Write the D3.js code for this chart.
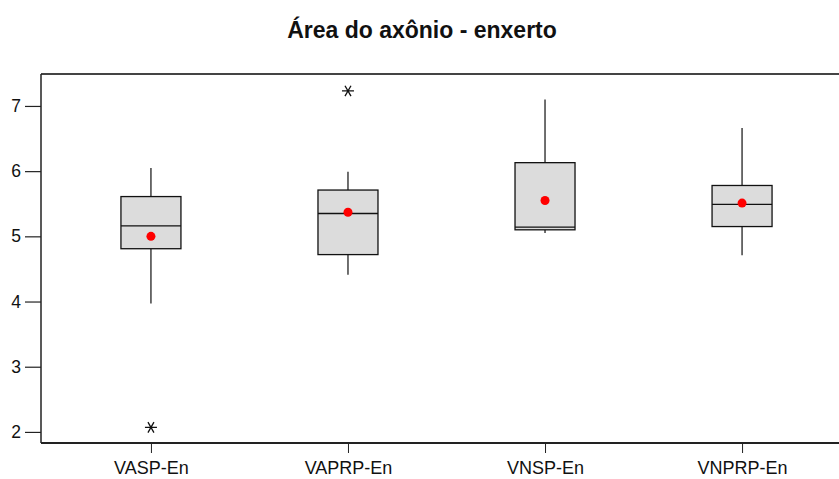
<!DOCTYPE html>
<html><head><meta charset="utf-8">
<script src="https://cdn.jsdelivr.net/npm/d3@7"></script>
<style>body{margin:0;background:#fff}svg{display:block;font-family:"Liberation Sans",Arial,sans-serif}</style>
</head><body><svg id="c" width="839" height="479"></svg>
<script>
const categories = ["VASP-En","VAPRP-En","VNSP-En","VNPRP-En"];
const whiskerLow  = [3.97, 4.41, 5.05, 4.71];
const q1          = [4.81, 4.72, 5.10, 5.15];
const median      = [5.16, 5.35, 5.14, 5.49];
const q3          = [5.61, 5.71, 6.13, 5.78];
const whiskerHigh = [6.05, 5.99, 7.10, 6.66];
const means       = [5.00, 5.37, 5.55, 5.51];
const outliers    = [[2.07], [7.23], [], []];
const yTicks      = [2,3,4,5,6,7];
const title = "Área do axônio - enxerto";

const svg = d3.select("#c");
const mLeft = 41, mTop = 74, mBottom = 443, mRight = 852;
const y = d3.scaleLinear().domain([1.83, 7.49]).range([mBottom, mTop]);
const x = d3.scalePoint().domain(categories).range([mLeft, mRight]).padding(0.558);
const boxW = 60;
const FONT = "Liberation Sans, Arial, sans-serif";

svg.append("text").attr("x", 422).attr("y", 38).attr("text-anchor","middle")
  .attr("font-size", 23).attr("font-weight","bold").attr("font-family",FONT).attr("fill","#111").text(title);

// frame
svg.append("line").attr("x1",mLeft).attr("x2",839).attr("y1",mTop).attr("y2",mTop).attr("stroke","#444").attr("stroke-width",2);
svg.append("line").attr("x1",mLeft).attr("x2",839).attr("y1",mBottom).attr("y2",mBottom).attr("stroke","#222").attr("stroke-width",2);
svg.append("line").attr("x1",mLeft).attr("x2",mLeft).attr("y1",mTop).attr("y2",mBottom).attr("stroke","#222").attr("stroke-width",1.5);

// y axis
const ya = svg.append("g").attr("transform",`translate(${mLeft},0)`)
  .call(d3.axisLeft(y).tickValues(yTicks).tickSize(16).tickPadding(4).tickFormat(d3.format("d")));
ya.select(".domain").remove();
ya.selectAll("line").attr("stroke","#222").attr("stroke-width",1.2);
ya.selectAll("text").attr("font-size",17.5).attr("fill","#111").attr("font-family",FONT);

// x axis
const xa = svg.append("g").attr("transform",`translate(0,${mBottom})`)
  .call(d3.axisBottom(x).tickSize(10).tickPadding(8));
xa.select(".domain").remove();
xa.selectAll("line").attr("stroke","#222").attr("stroke-width",1);
xa.selectAll("text").attr("font-size",18).attr("fill","#111").attr("font-family",FONT);

const ast = "M-6,0L6,0M-3,-5.2L3,5.2M3,-5.2L-3,5.2";
categories.forEach((c,i)=>{
  const cx = x(c);
  const g = svg.append("g");
  g.append("line").attr("x1",cx).attr("x2",cx).attr("y1",y(whiskerHigh[i])).attr("y2",y(q3[i])).attr("stroke","#222").attr("stroke-width",1.3);
  g.append("line").attr("x1",cx).attr("x2",cx).attr("y1",y(q1[i])).attr("y2",y(whiskerLow[i])).attr("stroke","#222").attr("stroke-width",1.3);
  g.append("rect").attr("x",cx-boxW/2).attr("width",boxW).attr("y",y(q3[i])).attr("height",y(q1[i])-y(q3[i]))
    .attr("fill","#dcdcdc").attr("stroke","#111").attr("stroke-width",1.3);
  g.append("line").attr("x1",cx-boxW/2).attr("x2",cx+boxW/2).attr("y1",y(median[i])).attr("y2",y(median[i])).attr("stroke","#111").attr("stroke-width",1.3);
  g.append("circle").attr("cx",cx).attr("cy",y(means[i])).attr("r",4.5).attr("fill","#ff0000");
  outliers[i].forEach(v=>{
    g.append("path").attr("d", ast)
      .attr("transform",`translate(${cx},${y(v)})`).attr("stroke","#111").attr("stroke-width",1.3).attr("fill","none");
  });
});
</script></body></html>
